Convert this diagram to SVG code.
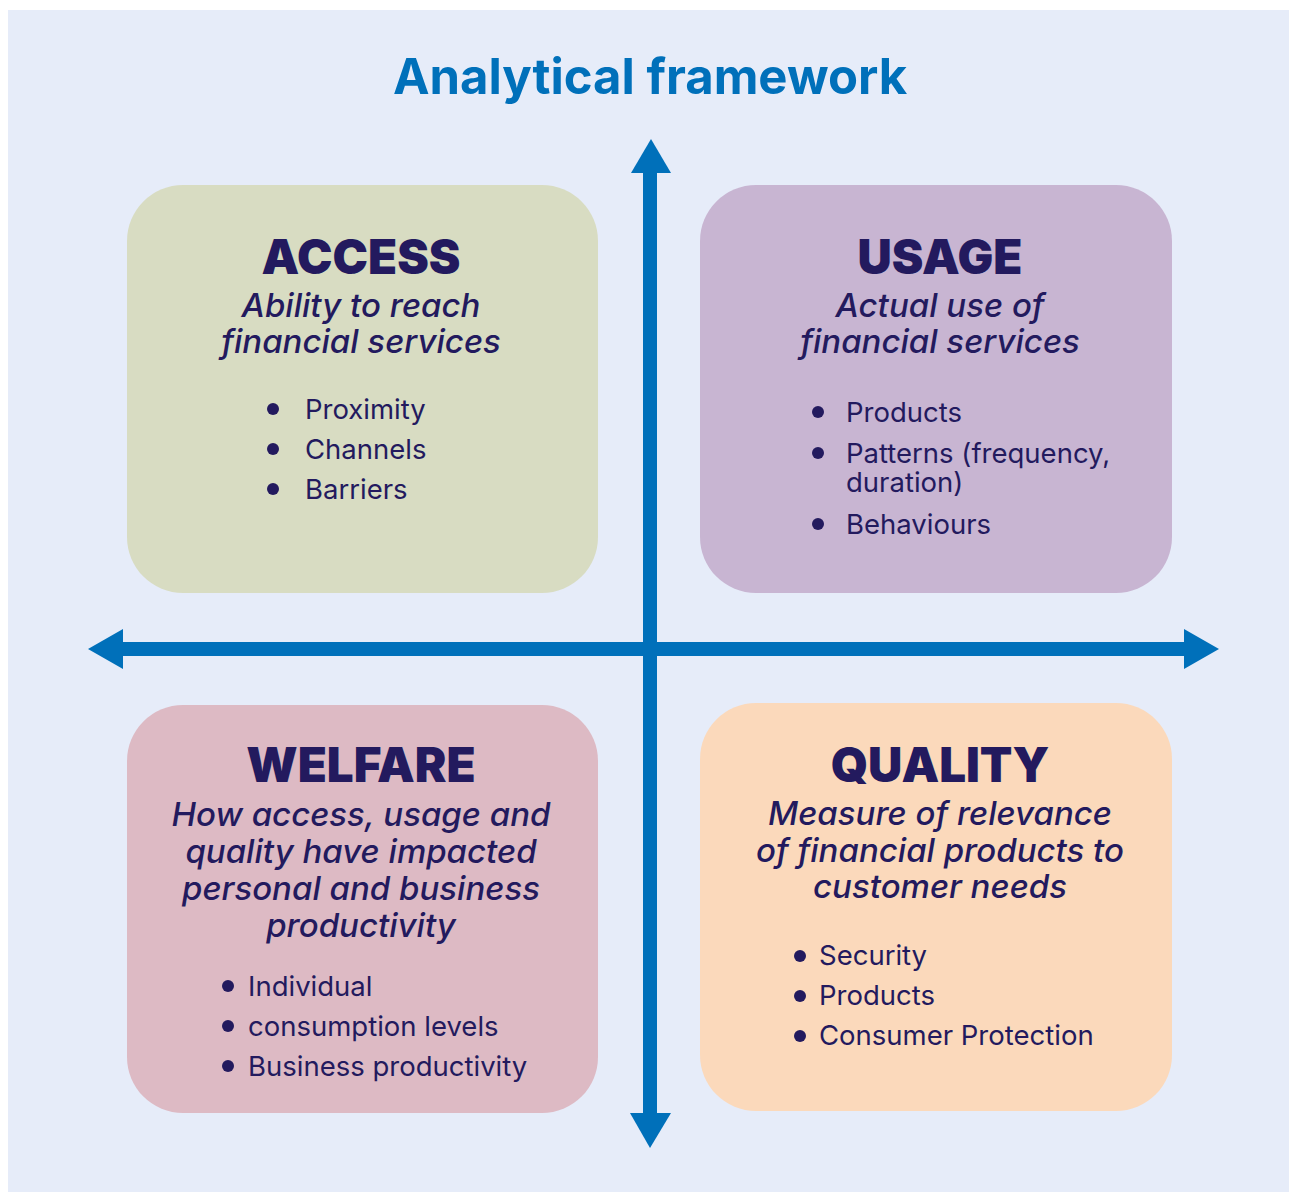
<svg xmlns="http://www.w3.org/2000/svg" width="1289" height="1192" viewBox="0 0 1289 1192">
  <style>
    .bg { fill: #E6ECF9; }
    .card { rx: 56; ry: 56; }
    .title { font-family: Inter, "Liberation Sans", sans-serif; font-weight: 700; font-size: 49px; fill: #0070BA; text-anchor: middle; }
    .head { font-family: Inter, "Liberation Sans", sans-serif; font-weight: 900; font-size: 47.5px; fill: #231A5E; text-anchor: middle; }
    .sub { font-family: Inter, "Liberation Sans", sans-serif; font-style: italic; font-weight: 500; font-size: 33px; fill: #231A5E; text-anchor: middle; }
    .item { font-family: Inter, "Liberation Sans", sans-serif; font-weight: 400; font-size: 27.5px; fill: #231A5E; }
    .dot { fill: #231A5E; }
    .axis { fill: #0070BA; }
  </style>

  <rect class="bg" x="8" y="10" width="1281" height="1182"/>

  <text class="title" x="650" y="94">Analytical framework</text>

  <!-- quadrant cards -->
  <g id="access">
    <rect class="card" x="127" y="185" width="471" height="408" fill="#D8DCC2"/>
    <text class="head" x="361" y="274">ACCESS</text>
    <text class="sub" x="361" y="317">Ability to reach</text>
    <text class="sub" x="361" y="353">financial services</text>
    <circle class="dot" cx="273" cy="409" r="6"/>
    <circle class="dot" cx="273" cy="449" r="6"/>
    <circle class="dot" cx="273" cy="489" r="6"/>
    <text class="item" x="305" y="419">Proximity</text>
    <text class="item" x="305" y="459">Channels</text>
    <text class="item" x="305" y="499">Barriers</text>
  </g>

  <g id="usage">
    <rect class="card" x="700" y="185" width="472" height="408" fill="#C8B5D2"/>
    <text class="head" x="940" y="274">USAGE</text>
    <text class="sub" x="940" y="317">Actual use of</text>
    <text class="sub" x="940" y="353">financial services</text>
    <circle class="dot" cx="818" cy="412" r="6"/>
    <circle class="dot" cx="818" cy="453" r="6"/>
    <circle class="dot" cx="818" cy="524" r="6"/>
    <text class="item" x="846" y="422">Products</text>
    <text class="item" x="846" y="463">Patterns (frequency,</text>
    <text class="item" x="846" y="492">duration)</text>
    <text class="item" x="846" y="534">Behaviours</text>
  </g>

  <g id="welfare">
    <rect class="card" x="127" y="705" width="471" height="408" fill="#DDBAC4"/>
    <text class="head" x="361" y="782">WELFARE</text>
    <text class="sub" x="361" y="826">How access, usage and</text>
    <text class="sub" x="361" y="863">quality have impacted</text>
    <text class="sub" x="361" y="900">personal and business</text>
    <text class="sub" x="361" y="937">productivity</text>
    <circle class="dot" cx="228" cy="986" r="6"/>
    <circle class="dot" cx="228" cy="1026" r="6"/>
    <circle class="dot" cx="228" cy="1066" r="6"/>
    <text class="item" x="248" y="996">Individual</text>
    <text class="item" x="248" y="1036">consumption levels</text>
    <text class="item" x="248" y="1076">Business productivity</text>
  </g>

  <g id="quality">
    <rect class="card" x="700" y="703" width="472" height="408" fill="#FBD9BB"/>
    <text class="head" x="940" y="782">QUALITY</text>
    <text class="sub" x="940" y="825">Measure of relevance</text>
    <text class="sub" x="940" y="862">of financial products to</text>
    <text class="sub" x="940" y="898">customer needs</text>
    <circle class="dot" cx="800" cy="956" r="6"/>
    <circle class="dot" cx="800" cy="996" r="6"/>
    <circle class="dot" cx="800" cy="1036" r="6"/>
    <text class="item" x="819" y="965">Security</text>
    <text class="item" x="819" y="1005">Products</text>
    <text class="item" x="819" y="1045">Consumer Protection</text>
  </g>

  <!-- axes with arrowheads at both ends -->
  <g id="connectors">
    <rect class="axis" x="643" y="170" width="14" height="946"/>
    <rect class="axis" x="120" y="642" width="1067" height="14"/>
    <polygon class="axis" points="651,139 671,173 631,173"/>
    <polygon class="axis" points="650,1148 671,1113 630,1113"/>
    <polygon class="axis" points="88,649 123,629 123,669"/>
    <polygon class="axis" points="1219,649 1184,629 1184,669"/>
  </g>
</svg>
